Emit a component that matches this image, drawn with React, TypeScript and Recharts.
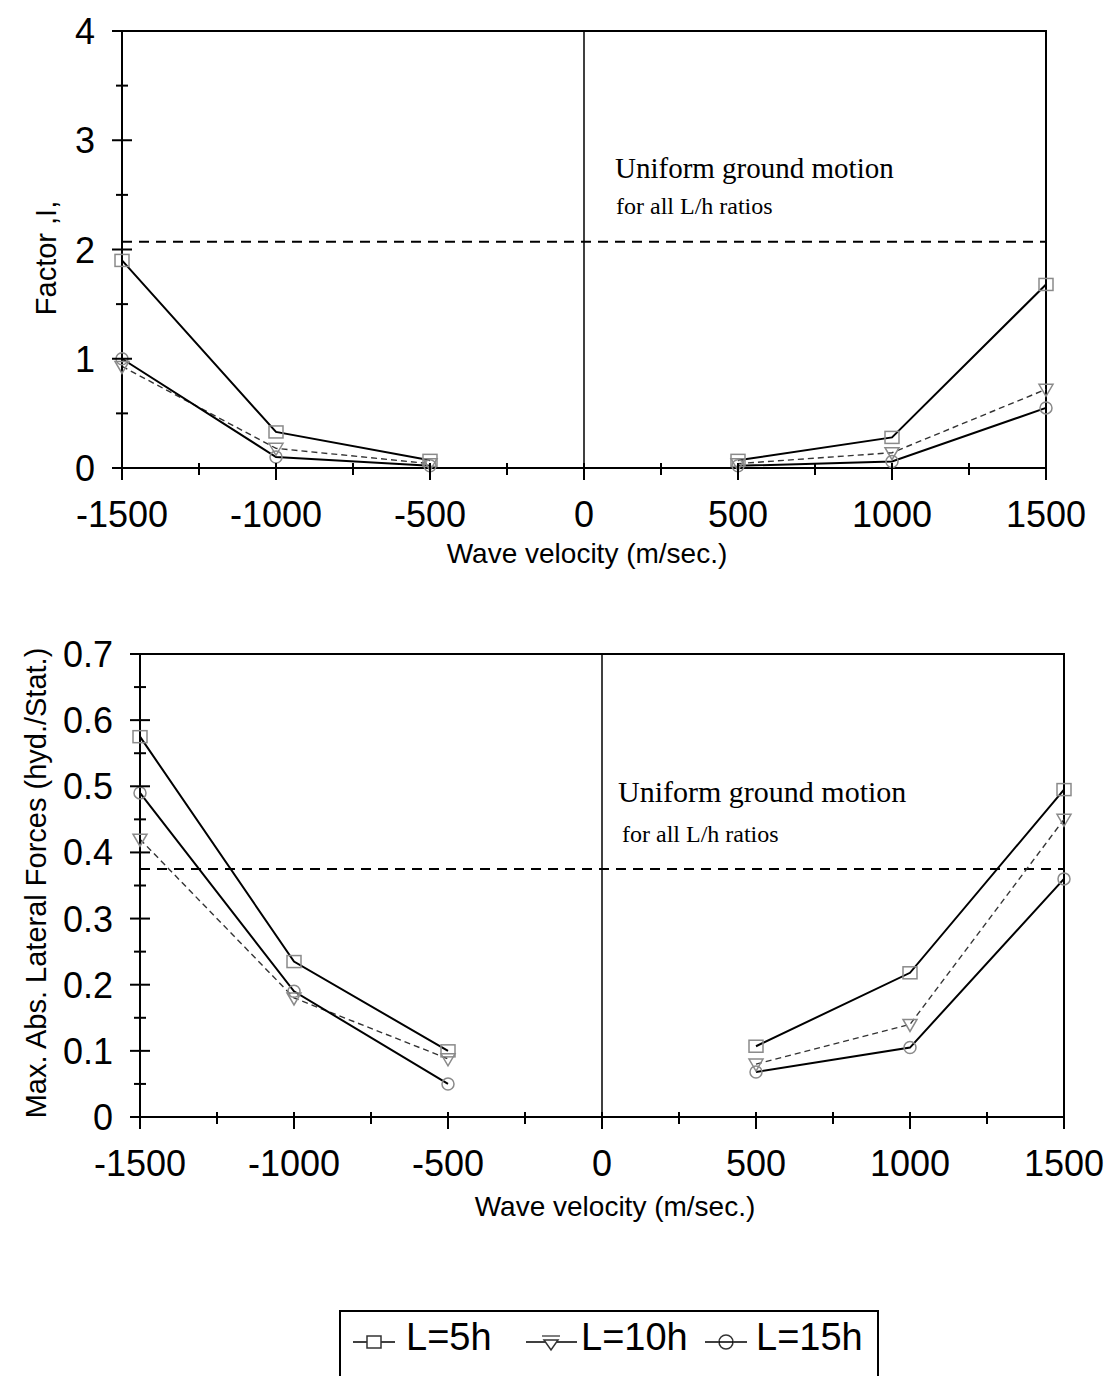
import React from 'react';
import { LineChart, Line, XAxis, YAxis, ReferenceLine, ReferenceArea } from 'recharts';

// wave velocity (m/sec.) at which the results were computed
const VELOCITY = [-1500, -1000, -500, 500, 1000, 1500];

// top panel: factor I
const FACTOR_L5 = [1.9, 0.33, 0.07, 0.07, 0.28, 1.68];
const FACTOR_L10 = [0.93, 0.18, 0.04, 0.04, 0.14, 0.72];
const FACTOR_L15 = [1.0, 0.1, 0.02, 0.02, 0.06, 0.55];
const FACTOR_UNIFORM = 2.07;

// bottom panel: max. abs. lateral forces (hyd./stat.)
const FORCE_L5 = [0.575, 0.235, 0.1, 0.107, 0.218, 0.495];
const FORCE_L10 = [0.42, 0.18, 0.088, 0.08, 0.14, 0.45];
const FORCE_L15 = [0.49, 0.19, 0.05, 0.068, 0.105, 0.36];
const FORCE_UNIFORM = 0.375;

const X_TICKS = [-1500, -1250, -1000, -750, -500, -250, 0, 250, 500, 750, 1000, 1250, 1500];
const FACTOR_TICKS = [0, 0.5, 1, 1.5, 2, 2.5, 3, 3.5, 4];
const FORCE_TICKS = [0, 0.05, 0.1, 0.15, 0.2, 0.25, 0.3, 0.35, 0.4, 0.45, 0.5, 0.55, 0.6, 0.65, 0.7];

const SERIES_NAMES = ['L=5h', 'L=10h', 'L=15h'];

const SANS = '"Liberation Sans", Arial, sans-serif';
const SERIF = '"Liberation Serif", "Times New Roman", serif';

// rows for the chart, with an empty row at 0 so the two branches stay apart
function buildRows(a: number[], b: number[], c: number[]) {
  const rows: any[] = VELOCITY.map((v, i) => ({ v, l5: a[i], l10: b[i], l15: c[i] }));
  rows.splice(3, 0, { v: 0, l5: null, l10: null, l15: null });
  return rows;
}

const MARK = '#8a8a8a';

const SquareDot = (p: any) =>
  p.cx == null || p.value == null ? (
    <g key={p.index} />
  ) : (
    <rect key={p.index} x={p.cx - 7} y={p.cy - 6} width={14} height={12} fill="none" stroke={MARK} strokeWidth={1.5} />
  );

const TriangleDot = (p: any) =>
  p.cx == null || p.value == null ? (
    <g key={p.index} />
  ) : (
    <path
      key={p.index}
      d={`M${p.cx - 7},${p.cy - 5} L${p.cx + 7},${p.cy - 5} L${p.cx},${p.cy + 7} Z`}
      fill="none"
      stroke={MARK}
      strokeWidth={1.5}
    />
  );

const CircleDot = (p: any) =>
  p.cx == null || p.value == null ? (
    <g key={p.index} />
  ) : (
    <circle key={p.index} cx={p.cx} cy={p.cy} r={6} fill="none" stroke={MARK} strokeWidth={1.5} />
  );

function XTick({ x, y, payload }: any) {
  const major = payload.value % 500 === 0;
  return (
    <g>
      <line x1={x} x2={x} y1={y - 5} y2={y + (major ? 12 : 7)} stroke="#000" strokeWidth={2} />
      {major && (
        <text x={x} y={y + 59} textAnchor="middle" fontSize={36} fontFamily={SANS} fill="#000">
          {payload.value}
        </text>
      )}
    </g>
  );
}

function makeYTick(majorStep: number, fmt: (v: number) => string) {
  return function YTick({ x, y, payload }: any) {
    const q = payload.value / majorStep;
    const major = Math.abs(q - Math.round(q)) < 1e-6;
    return (
      <g>
        <line x1={x - (major ? 10 : 6)} x2={x + (major ? 10 : 6)} y1={y} y2={y} stroke="#000" strokeWidth={2} />
        {major && (
          <text x={x - 27} y={y + 13} textAnchor="end" fontSize={36} fontFamily={SANS} fill="#000">
            {fmt(payload.value)}
          </text>
        )}
      </g>
    );
  };
}

const FactorTick = makeYTick(1, (v) => String(v));
const ForceTick = makeYTick(0.1, (v) => (v === 0 ? '0' : v.toFixed(1)));

interface PanelProps {
  top: number;
  height: number;
  margin: { top: number; right: number; bottom: number; left: number };
  yWidth: number;
  yMax: number;
  yTicks: number[];
  tick: any;
  uniform: number;
  rows: any[];
}

function Panel({ top, height, margin, yWidth, yMax, yTicks, tick, uniform, rows }: PanelProps) {
  return (
    <div style={{ position: 'absolute', left: 0, top }}>
      <LineChart width={1108} height={height} data={rows} margin={margin}>
        <XAxis
          dataKey="v"
          type="number"
          domain={[-1500, 1500]}
          ticks={X_TICKS}
          interval={0}
          height={60}
          tickSize={0}
          tickMargin={0}
          tickLine={false}
          axisLine={{ stroke: '#000', strokeWidth: 2 }}
          tick={<XTick />}
        />
        <YAxis
          type="number"
          domain={[0, yMax]}
          ticks={yTicks}
          interval={0}
          width={yWidth}
          tickSize={0}
          tickMargin={0}
          tickLine={false}
          axisLine={{ stroke: '#000', strokeWidth: 2 }}
          tick={tick}
        />
        <ReferenceArea x1={-1500} x2={1500} y1={0} y2={yMax} fill="none" stroke="#000" strokeWidth={2} />
        <ReferenceLine x={0} stroke="#000" strokeWidth={1.5} />
        <ReferenceLine y={uniform} stroke="#000" strokeWidth={2} strokeDasharray="10 7" />
        <Line
          dataKey="l10"
          name={SERIES_NAMES[1]}
          stroke="#333"
          strokeWidth={1.4}
          strokeDasharray="6 4"
          dot={TriangleDot}
          activeDot={false}
          isAnimationActive={false}
        />
        <Line
          dataKey="l15"
          name={SERIES_NAMES[2]}
          stroke="#000"
          strokeWidth={2}
          dot={CircleDot}
          activeDot={false}
          isAnimationActive={false}
        />
        <Line
          dataKey="l5"
          name={SERIES_NAMES[0]}
          stroke="#000"
          strokeWidth={2}
          dot={SquareDot}
          activeDot={false}
          isAnimationActive={false}
        />
      </LineChart>
    </div>
  );
}

export default function App() {
  const factorRows = buildRows(FACTOR_L5, FACTOR_L10, FACTOR_L15);
  const forceRows = buildRows(FORCE_L5, FORCE_L10, FORCE_L15);

  return (
    <div style={{ position: 'absolute', left: 0, top: 0, width: 1108, height: 1376, background: '#fff', overflow: 'hidden' }}>
      <Panel
        top={0}
        height={560}
        margin={{ top: 31, right: 62, bottom: 32, left: 0 }}
        yWidth={122}
        yMax={4}
        yTicks={FACTOR_TICKS}
        tick={<FactorTick />}
        uniform={FACTOR_UNIFORM}
        rows={factorRows}
      />
      <Panel
        top={600}
        height={600}
        margin={{ top: 54, right: 44, bottom: 23, left: 0 }}
        yWidth={140}
        yMax={0.7}
        yTicks={FORCE_TICKS}
        tick={<ForceTick />}
        uniform={FORCE_UNIFORM}
        rows={forceRows}
      />

      <svg width={1108} height={1376} style={{ position: 'absolute', left: 0, top: 0, pointerEvents: 'none' }}>
        {/* top panel texts */}
        <text x={615} y={178} fontSize={29} fontFamily={SERIF}>Uniform ground motion</text>
        <text x={616} y={214} fontSize={24} fontFamily={SERIF}>for all L/h ratios</text>
        <text x={587} y={563} fontSize={28} fontFamily={SANS} textAnchor="middle">Wave velocity (m/sec.)</text>
        <text x={56} y={258} fontSize={29} fontFamily={SANS} textAnchor="middle" transform="rotate(-90 56 258)">
          Factor ,I,
        </text>

        {/* bottom panel texts */}
        <text x={618} y={802} fontSize={30} fontFamily={SERIF}>Uniform ground motion</text>
        <text x={622} y={842} fontSize={24} fontFamily={SERIF}>for all L/h ratios</text>
        <text x={615} y={1216} fontSize={28} fontFamily={SANS} textAnchor="middle">Wave velocity (m/sec.)</text>
        <text x={46} y={883} fontSize={29} fontFamily={SANS} textAnchor="middle" transform="rotate(-90 46 883)">
          Max. Abs. Lateral Forces (hyd./Stat.)
        </text>

        {/* legend */}
        <rect x={340} y={1311} width={538} height={90} fill="none" stroke="#000" strokeWidth={2} />
        <line x1={353} x2={395} y1={1342} y2={1342} stroke="#000" strokeWidth={1.5} />
        <rect x={367} y={1336} width={14} height={12} fill="#fff" stroke="#333" strokeWidth={1.5} />
        <text x={406} y={1350} fontSize={38} fontFamily={SANS}>{SERIES_NAMES[0]}</text>
        <line x1={526} x2={577} y1={1342} y2={1342} stroke="#000" strokeWidth={1.5} />
        <line x1={542} x2={560} y1={1336} y2={1336} stroke="#555" strokeWidth={1.5} />
        <path d="M544,1340 L558,1340 L551,1350 Z" fill="#fff" stroke="#333" strokeWidth={1.5} />
        <text x={581} y={1350} fontSize={38} fontFamily={SANS}>{SERIES_NAMES[1]}</text>
        <line x1={705} x2={747} y1={1342} y2={1342} stroke="#000" strokeWidth={1.5} />
        <circle cx={726} cy={1342} r={7} fill="#fff" stroke="#333" strokeWidth={1.5} />
        <line x1={719} x2={733} y1={1342} y2={1342} stroke="#000" strokeWidth={1.5} />
        <text x={756} y={1350} fontSize={38} fontFamily={SANS}>{SERIES_NAMES[2]}</text>
      </svg>
    </div>
  );
}
